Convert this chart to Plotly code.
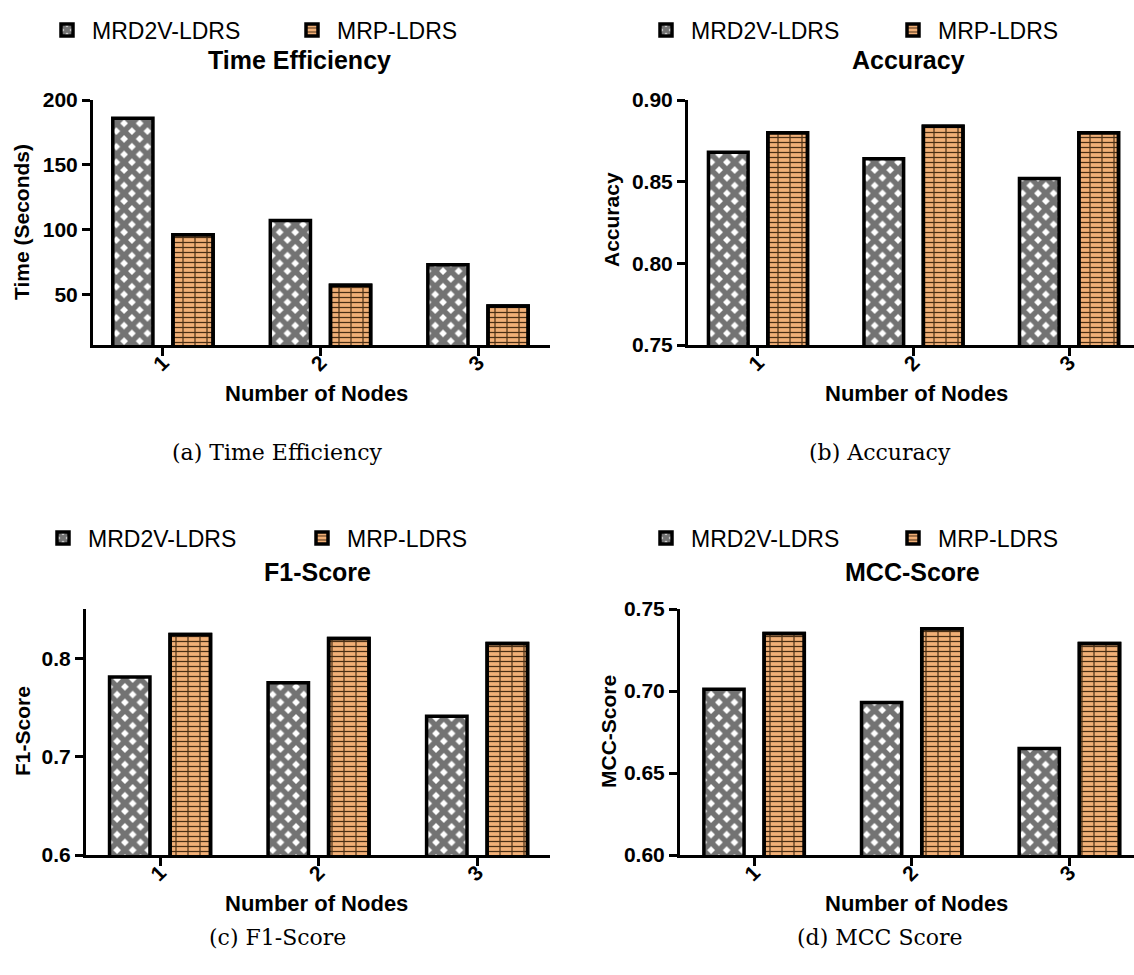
import plotly.graph_objects as go

W, H = 1134, 975

# ---------------- data ----------------
nodes = [1, 2, 3]
series_names = ["MRD2V-LDRS", "MRP-LDRS"]

time_mrd2v = [186, 107, 73]
time_mrp = [96, 57, 41]
acc_mrd2v = [0.868, 0.864, 0.852]
acc_mrp = [0.880, 0.884, 0.880]
f1_mrd2v = [0.781, 0.775, 0.741]
f1_mrp = [0.824, 0.820, 0.815]
mcc_mrd2v = [0.701, 0.693, 0.665]
mcc_mrp = [0.735, 0.738, 0.729]

panel_titles = ["Time Efficiency", "Accuracy", "F1-Score", "MCC-Score"]
y_titles = ["Time (Seconds)", "Accuracy", "F1-Score", "MCC-Score"]
captions = ["(a) Time Efficiency", "(b) Accuracy", "(c) F1-Score", "(d) MCC Score"]
x_title = "Number of Nodes"
ytick_vals = [[50, 100, 150, 200], [0.75, 0.80, 0.85, 0.90], [0.6, 0.7, 0.8], [0.60, 0.65, 0.70, 0.75]]
ytick_text = [["50", "100", "150", "200"], ["0.75", "0.80", "0.85", "0.90"],
              ["0.6", "0.7", "0.8"], ["0.60", "0.65", "0.70", "0.75"]]
y_ranges = [[11, 200], [0.75, 0.90], [0.6, 0.85], [0.6, 0.75]]
xtick_text = ["1", "2", "3"]

panels_data = [
    (time_mrd2v, time_mrp),
    (acc_mrd2v, acc_mrp),
    (f1_mrd2v, f1_mrp),
    (mcc_mrd2v, mcc_mrp),
]

# ---------------- layout geometry (pixels) ----------------
geom = [
    (93, 550, 100, 345, [0.556, 3.457]),
    (688, 1134, 100, 345, [0.55, 3.418]),
    (86, 550, 609, 855, [0.533, 3.46]),
    (680, 1134, 609, 855, [0.53, 3.41]),
]
title_pos = [(299, 60), (908, 60), (317, 572), (912, 572)]
xtitle_pos = [(316, 393), (916, 393), (316, 903), (916, 903)]
ytitle_pos = [(22, 222), (612, 220), (22, 731), (608, 732)]
caption_pos = [(277, 452), (880, 452), (277, 937), (880, 937)]
legend_pos = [(42, 30), (641, 30), (38, 538), (641, 538)]
legend_entry_w = [190, 192, 204, 192]


def px(x):
    return x / W


def py(y):
    return 1 - y / H


FONT = "Arial, Liberation Sans, sans-serif"
GREY = "#737373"
ORANGE = "#F2B077"
BRICK = "#4A2E14"
BAR_W = 0.255
HALF_GAP = 0.0635

fig = go.Figure()
layout = dict(
    width=W, height=H,
    margin=dict(l=0, r=0, t=0, b=0, autoexpand=False),
    paper_bgcolor="white", plot_bgcolor="white",
    barmode="overlay",
    annotations=[],
)

for i in range(4):
    sfx = "" if i == 0 else str(i + 1)
    xa, ya = "x" + sfx, "y" + sfx
    lg = "legend" + sfx
    d1, d2 = panels_data[i]
    fig.add_trace(go.Bar(
        x=nodes, y=d1, name=series_names[0], xaxis=xa, yaxis=ya, legend=lg,
        width=BAR_W, offset=-HALF_GAP - BAR_W,
        marker=dict(color=GREY, line=dict(color="black", width=3.5),
                    pattern=dict(shape="x", fgcolor=GREY, bgcolor="white", fgopacity=1,
                                 size=11, solidity=0.75)),
    ))
    fig.add_trace(go.Bar(
        x=nodes, y=d2, name=series_names[1], xaxis=xa, yaxis=ya, legend=lg,
        width=BAR_W, offset=HALF_GAP,
        marker=dict(color=ORANGE, line=dict(color="black", width=3.5),
                    pattern=dict(shape="-", fgcolor=BRICK, bgcolor=ORANGE, fgopacity=1,
                                 size=5, solidity=0.25)),
    ))
    fig.add_trace(go.Bar(
        x=nodes, y=d2, name=series_names[1], xaxis=xa, yaxis=ya, legend=lg,
        showlegend=False, hoverinfo="skip",
        width=BAR_W, offset=HALF_GAP,
        marker=dict(color="rgba(0,0,0,0)", line=dict(color="black", width=3.5),
                    pattern=dict(shape="|", fgcolor=BRICK, fgopacity=1, size=12, solidity=0.1)),
    ))

    l, r, t, b, xr = geom[i]
    layout["xaxis" + sfx] = dict(
        domain=[px(l), px(r)], anchor=ya, range=xr,
        tickvals=nodes, ticktext=xtick_text, tickangle=-45,
        showline=True, linewidth=3, linecolor="black",
        ticks="outside", ticklen=8, tickwidth=3, tickcolor="black",
        showgrid=False, zeroline=False, ticklabelstandoff=-14,
        tickfont=dict(family=FONT, size=21, color="black", weight="bold"),
    )
    layout["yaxis" + sfx] = dict(
        domain=[py(b), py(t)], anchor=xa, range=y_ranges[i],
        tickvals=ytick_vals[i], ticktext=ytick_text[i],
        showline=True, linewidth=3, linecolor="black",
        ticks="outside", ticklen=8, tickwidth=3, tickcolor="black",
        showgrid=False, zeroline=False,
        tickfont=dict(family=FONT, size=21, color="black", weight="bold"),
    )
    lx, ly = legend_pos[i]
    layout[lg] = dict(
        orientation="h", x=px(lx), y=py(ly), xanchor="left", yanchor="middle",
        font=dict(family=FONT, size=23, color="black"),
        bgcolor="rgba(0,0,0,0)", entrywidth=legend_entry_w[i], entrywidthmode="pixels",
        itemwidth=40, traceorder="normal",
    )
    tx, ty = title_pos[i]
    layout["annotations"].append(dict(
        text=panel_titles[i], x=px(tx), y=py(ty), xref="paper", yref="paper",
        showarrow=False, xanchor="center", yanchor="middle",
        font=dict(family=FONT, size=25, color="black", weight="bold")))
    ax_, ay_ = xtitle_pos[i]
    layout["annotations"].append(dict(
        text=x_title, x=px(ax_), y=py(ay_), xref="paper", yref="paper",
        showarrow=False, xanchor="center", yanchor="middle",
        font=dict(family=FONT, size=22, color="black", weight="bold")))
    yx, yy = ytitle_pos[i]
    layout["annotations"].append(dict(
        text=y_titles[i], x=px(yx), y=py(yy), xref="paper", yref="paper",
        showarrow=False, xanchor="center", yanchor="middle", textangle=-90,
        font=dict(family=FONT, size=21, color="black", weight="bold")))
    cx, cy = caption_pos[i]
    layout["annotations"].append(dict(
        text=captions[i], x=px(cx), y=py(cy), xref="paper", yref="paper",
        showarrow=False, xanchor="center", yanchor="middle",
        font=dict(family="DejaVu Serif, serif", size=22, color="black")))

fig.update_layout(**layout)
fig.write_html("out.html")
